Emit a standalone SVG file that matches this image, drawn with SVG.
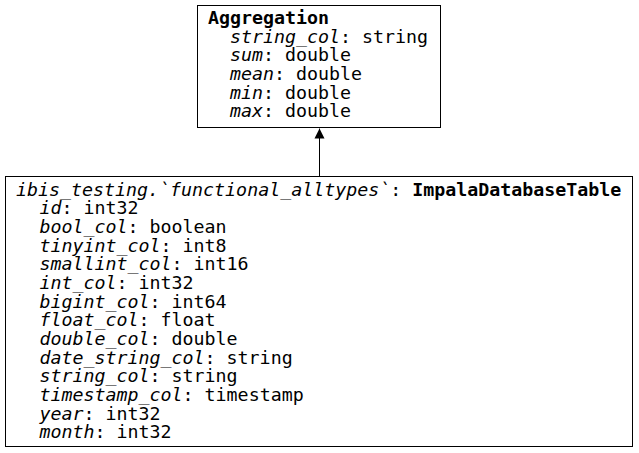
<svg xmlns="http://www.w3.org/2000/svg" width="639" height="453" viewBox="0 0 639 453">
<defs>
<style>
.box{fill:#fff;stroke:#000;stroke-width:1}
text{font-family:"DejaVu Sans Mono","Liberation Mono",monospace;font-size:18.3px;fill:#000}
.i{font-style:italic}
.b{font-weight:bold}
.edge{stroke:#000;stroke-width:1;fill:none}
</style>
<marker id="arr" markerWidth="10" markerHeight="14" refX="10" refY="5" orient="auto" markerUnits="userSpaceOnUse" viewBox="0 0 10 10">
<path d="M0,0 L10,5 L0,10 Z" fill="#000"/>
</marker>
</defs>
<rect width="639" height="453" fill="#fff"/>
<g id="connectors">
<line class="edge" x1="319.5" y1="176" x2="319.5" y2="128.5" marker-end="url(#arr)"/>
</g>
<g id="aggregation">
<rect class="box" x="197.5" y="5.5" width="243" height="122"/>
<text x="208" y="24" class="b">Aggregation</text>
<text x="230" y="42.7"><tspan class="i">string_col</tspan>: string</text>
<text x="230" y="61.3"><tspan class="i">sum</tspan>: double</text>
<text x="230" y="80"><tspan class="i">mean</tspan>: double</text>
<text x="230" y="98.7"><tspan class="i">min</tspan>: double</text>
<text x="230" y="117.3"><tspan class="i">max</tspan>: double</text>
</g>
<g id="functional_alltypes">
<rect class="box" x="5.5" y="176.5" width="627" height="270"/>
<text x="16" y="195.5"><tspan class="i">ibis_testing.`functional_alltypes`</tspan>: <tspan class="b">ImpalaDatabaseTable</tspan></text>
<text x="39.5" y="214.2"><tspan class="i">id</tspan>: int32</text>
<text x="39.5" y="232.8"><tspan class="i">bool_col</tspan>: boolean</text>
<text x="39.5" y="251.5"><tspan class="i">tinyint_col</tspan>: int8</text>
<text x="39.5" y="270.2"><tspan class="i">smallint_col</tspan>: int16</text>
<text x="39.5" y="288.8"><tspan class="i">int_col</tspan>: int32</text>
<text x="39.5" y="307.5"><tspan class="i">bigint_col</tspan>: int64</text>
<text x="39.5" y="326.2"><tspan class="i">float_col</tspan>: float</text>
<text x="39.5" y="344.8"><tspan class="i">double_col</tspan>: double</text>
<text x="39.5" y="363.5"><tspan class="i">date_string_col</tspan>: string</text>
<text x="39.5" y="382.2"><tspan class="i">string_col</tspan>: string</text>
<text x="39.5" y="400.8"><tspan class="i">timestamp_col</tspan>: timestamp</text>
<text x="39.5" y="419.5"><tspan class="i">year</tspan>: int32</text>
<text x="39.5" y="438.2"><tspan class="i">month</tspan>: int32</text>
</g>
</svg>
